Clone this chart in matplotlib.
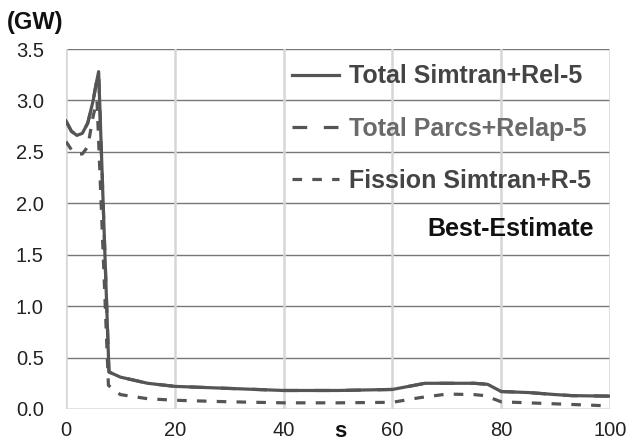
import numpy as np
import matplotlib.pyplot as plt

plt.rcParams['font.family'] = ['Liberation Sans', 'DejaVu Sans']

# Zeit (s) und Leistung (GW)
t_simtran = [0, 0.5, 1, 2, 3, 4, 5, 5.5, 6, 7.9, 10, 15, 20, 30, 40, 50, 60, 63, 66, 70, 75, 77.5, 80, 85, 90, 93, 100]
p_simtran = [2.80, 2.75, 2.70, 2.66, 2.68, 2.78, 3.00, 3.15, 3.28, 0.36, 0.31, 0.25, 0.22, 0.20, 0.18, 0.18, 0.19, 0.22, 0.25, 0.25, 0.25, 0.24, 0.17, 0.16, 0.14, 0.13, 0.125]

t_parcs = [0, 0.5, 1, 2, 3, 4, 5, 5.5, 6, 7.9, 10, 15, 20, 30, 40, 50, 60, 63, 66, 70, 75, 77.5, 80, 85, 90, 93, 100]
p_parcs = [2.80, 2.75, 2.70, 2.66, 2.68, 2.78, 3.00, 3.15, 3.27, 0.36, 0.31, 0.25, 0.22, 0.20, 0.18, 0.18, 0.19, 0.22, 0.25, 0.25, 0.25, 0.24, 0.17, 0.16, 0.14, 0.13, 0.125]

t_fission = [0, 1, 2, 3, 4, 5, 5.7, 7.8, 10, 15, 20, 30, 40, 50, 60, 65, 70, 75, 77, 80, 90, 100]
p_fission = [2.60, 2.52, 2.48, 2.48, 2.55, 2.85, 3.00, 0.23, 0.14, 0.10, 0.085, 0.07, 0.06, 0.06, 0.065, 0.11, 0.145, 0.14, 0.13, 0.07, 0.05, 0.03]

fig = plt.figure(figsize=(6.31, 4.42), dpi=100)
ax = fig.add_axes([66 / 631, 33 / 442, 544 / 631, 360 / 442])

farbe = '#555555'
ax.plot(t_simtran, p_simtran, color=farbe, lw=2.3, label='Total Simtran+Rel-5')
ax.plot(t_parcs, p_parcs, color=farbe, lw=2.3, dashes=(4.6, 5.2), label='Total Parcs+Relap-5')
ax.plot(t_fission, p_fission, color=farbe, lw=2.3, dashes=(3.0, 3.2), label='Fission Simtran+R-5')

ax.set_xlim(0, 100)
ax.set_ylim(0, 3.5)
ax.set_xticks(np.arange(0, 101, 20))
ax.set_yticks(np.arange(0, 3.51, 0.5))
ax.set_yticklabels([f'{v:.1f}' for v in np.arange(0, 3.51, 0.5)])

#Gitter: horizontal dunkel, vertikal hell
for y in np.arange(0, 3.51, 0.5):
    ax.axhline(y, color='#777777', lw=1, zorder=0)
for x in np.arange(0, 101, 20):
    ax.axvline(x, color='#d6d6d6', lw=1.8, zorder=0)

for s in ax.spines.values():
    s.set_visible(False)
ax.tick_params(length=0, labelsize=14.5, colors='#222222')
ax.tick_params(axis='y', pad=16)
ax.tick_params(axis='x', pad=9)

leg = ax.legend(loc='upper left', bbox_to_anchor=(0.415, 0.957), frameon=False,
                handlelength=1.9, handletextpad=0.4, labelspacing=1.13,
                borderaxespad=0, borderpad=0, prop={'weight': 'bold', 'size': 18})
for txt, c in zip(leg.get_texts(), ['#444444', '#6a6a6a', '#444444']):
    txt.set_color(c)

ax.text(0.97, 0.5, 'Best-Estimate', transform=ax.transAxes, ha='right', va='center',
        fontsize=18, fontweight='bold', color='#111111')
fig.text(7 / 631, 1 - 23 / 442, '(GW)', ha='left', va='center', fontsize=17, fontweight='bold', color='#111111')
fig.text(340 / 631, 5 / 442, 's', ha='center', va='baseline', fontsize=16, fontweight='bold', color='#111111')

fig.savefig('out.png', dpi=100)
